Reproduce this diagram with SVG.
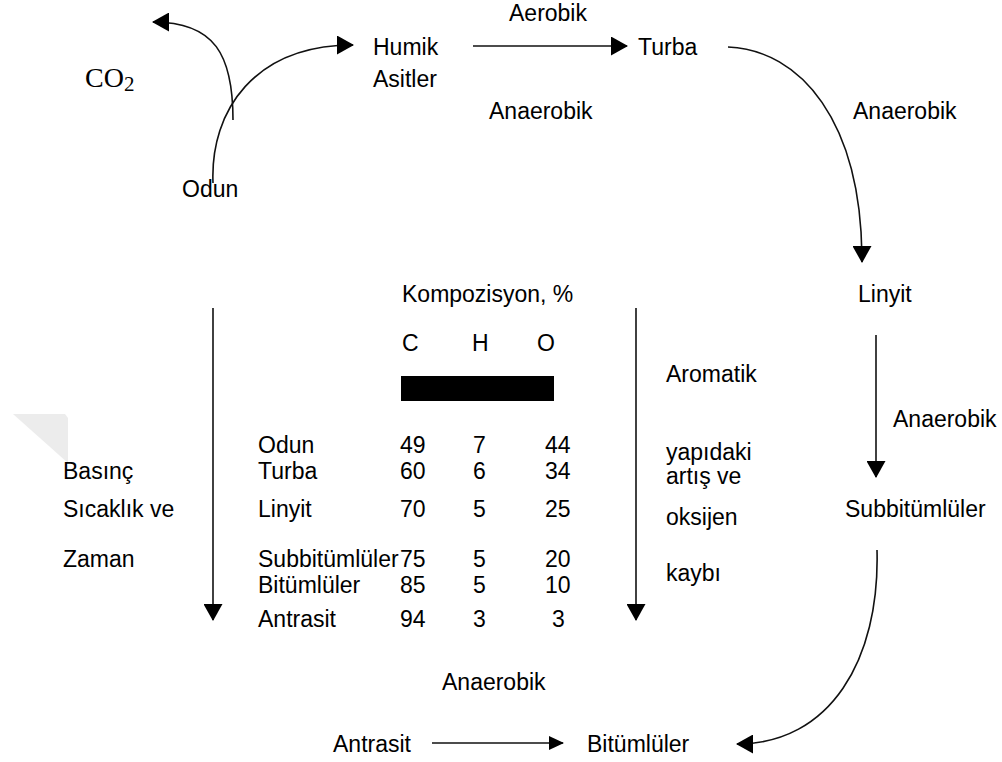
<svg xmlns="http://www.w3.org/2000/svg" width="1002" height="762" viewBox="0 0 1002 762">
<style>
.t{font-family:"Liberation Sans",Arial,sans-serif;font-size:23px;fill:#000}
.s{font-family:"Liberation Serif","Times New Roman",serif;font-size:28px;fill:#000}
.c{fill:none;stroke:#111;stroke-width:1.6}
</style>
<defs>
<marker id="ah" markerUnits="userSpaceOnUse" markerWidth="17" markerHeight="19" viewBox="0 0 17 19" refX="16" refY="9.5" orient="auto">
<path d="M0,0 L17,9.5 L0,19 z" fill="#000"/>
</marker>
<marker id="ahs" markerUnits="userSpaceOnUse" markerWidth="15" markerHeight="14" viewBox="0 0 15 14" refX="14" refY="7" orient="auto">
<path d="M0,0 L15,7 L0,14 z" fill="#000"/>
</marker>
</defs>
<rect width="1002" height="762" fill="#fff"/>
<polygon points="13,414 65,414 68,418 68,463" fill="#ececec"/>
<g id="connectors">
<path class="c" d="M233,120 C233,55 215,22 153,22" marker-end="url(#ah)"/>
<path class="c" d="M213,183 C210,110 255,45 353,45" marker-end="url(#ah)"/>
<path class="c" d="M473,46 L627,46" marker-end="url(#ah)"/>
<path class="c" d="M728,47 C800,50 862,120 862,262" marker-end="url(#ah)"/>
<path class="c" d="M876,335 L876,477" marker-end="url(#ah)"/>
<path class="c" d="M877,550 C880,660 830,744 737,744" marker-end="url(#ah)"/>
<path class="c" d="M213,308 L213,620" marker-end="url(#ah)"/>
<path class="c" d="M636,308 L636,620" marker-end="url(#ah)"/>
<path class="c" d="M432,743 L563,743" marker-end="url(#ahs)"/>
</g>
<g id="co2"><text class="s" x="85" y="87">CO<tspan font-size="21" dy="4">2</tspan></text></g>
<g id="humik"><text class="t" x="373" y="55">Humik</text><text class="t" x="373" y="87">Asitler</text></g>
<g id="odun"><text class="t" x="182" y="197">Odun</text></g>
<g id="aerobik-label"><text class="t" x="509" y="21">Aerobik</text></g>
<g id="turba"><text class="t" x="638" y="55">Turba</text></g>
<g id="anaerobik-1"><text class="t" x="489" y="119">Anaerobik</text></g>
<g id="anaerobik-2"><text class="t" x="853" y="119">Anaerobik</text></g>
<g id="linyit"><text class="t" x="858" y="302">Linyit</text></g>
<g id="anaerobik-3"><text class="t" x="893" y="427">Anaerobik</text></g>
<g id="subbitumluler"><text class="t" x="845" y="517">Subbitümlüler</text></g>
<g id="anaerobik-4"><text class="t" x="442" y="690">Anaerobik</text></g>
<g id="antrasit"><text class="t" x="333" y="752">Antrasit</text></g>
<g id="bitumluler"><text class="t" x="587" y="752">Bitümlüler</text></g>
<g id="left-label">
<text class="t" x="63" y="479">Basınç</text>
<text class="t" x="63" y="517">Sıcaklık ve</text>
<text class="t" x="63" y="567">Zaman</text>
</g>
<g id="right-label">
<text class="t" x="666" y="382">Aromatik</text>
<text class="t" x="666" y="460">yapıdaki</text>
<text class="t" x="666" y="484">artış ve</text>
<text class="t" x="666" y="525">oksijen</text>
<text class="t" x="666" y="581">kaybı</text>
</g>
<g id="table">
<text class="t" x="402" y="302">Kompozisyon, %</text>
<text class="t" x="402" y="351">C</text>
<text class="t" x="472" y="351">H</text>
<text class="t" x="537" y="351">O</text>
<rect x="401" y="376" width="153" height="25" fill="#000"/>
<text class="t" x="258" y="453">Odun</text><text class="t" x="400" y="453">49</text><text class="t" x="473" y="453">7</text><text class="t" x="545" y="453">44</text>
<text class="t" x="258" y="479">Turba</text><text class="t" x="400" y="479">60</text><text class="t" x="473" y="479">6</text><text class="t" x="545" y="479">34</text>
<text class="t" x="258" y="517">Linyit</text><text class="t" x="400" y="517">70</text><text class="t" x="473" y="517">5</text><text class="t" x="545" y="517">25</text>
<text class="t" x="258" y="567">Subbitümlüler</text><text class="t" x="400" y="567">75</text><text class="t" x="473" y="567">5</text><text class="t" x="545" y="567">20</text>
<text class="t" x="258" y="593">Bitümlüler</text><text class="t" x="400" y="593">85</text><text class="t" x="473" y="593">5</text><text class="t" x="545" y="593">10</text>
<text class="t" x="258" y="627">Antrasit</text><text class="t" x="400" y="627">94</text><text class="t" x="473" y="627">3</text><text class="t" x="552" y="627">3</text>
</g>
</svg>
